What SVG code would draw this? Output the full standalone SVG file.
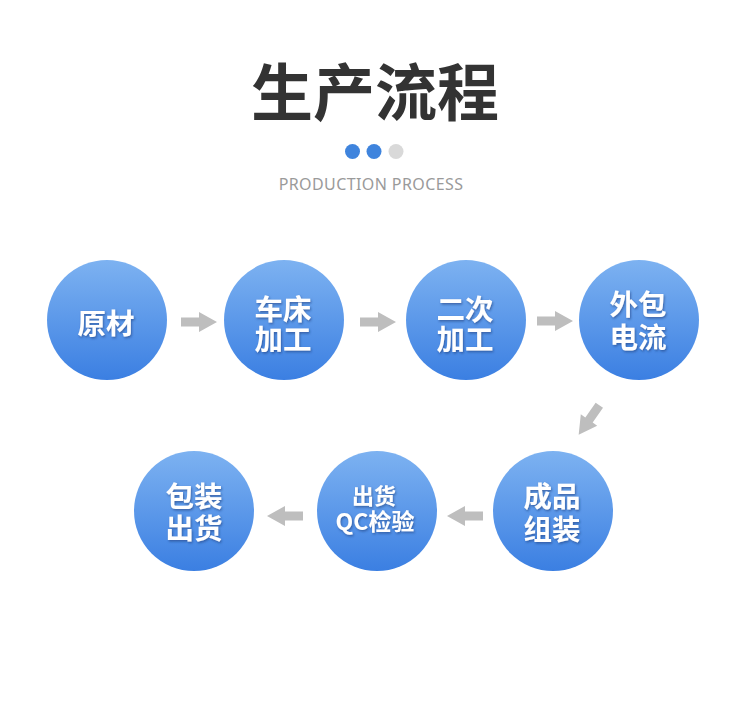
<svg xmlns="http://www.w3.org/2000/svg" width="750" height="716" viewBox="0 0 750 716">
<style>
.t{font-family:"Noto Sans CJK SC","Noto Sans",sans-serif;font-weight:bold;fill:#fff;text-anchor:middle;font-size:28.5px}
.s{font-size:23px}
.ar{fill:#BEBEBE}
</style>
<defs>
<linearGradient id="g" x1="0" y1="0" x2="0" y2="1">
<stop offset="0" stop-color="#7DB2F1"/>
<stop offset="1" stop-color="#3B7FE2"/>
</linearGradient>
<filter id="sh" x="-20%" y="-20%" width="140%" height="140%">
<feDropShadow dx="1" dy="1.5" stdDeviation="1" flood-color="#1a3d7a" flood-opacity="0.6"/>
</filter>
<polygon id="arr" points="-18,-4.5 0,-4.5 0,-10 18,0 0,10 0,4.5 -18,4.5"/>
</defs>
<rect width="750" height="716" fill="#fff"/>
<text x="375" y="116" style="font-family:'Noto Sans CJK SC',sans-serif;font-weight:bold;font-size:62px;fill:#333;text-anchor:middle">生产流程</text>
<circle cx="352.5" cy="151.5" r="7.5" fill="#3F84DD"/>
<circle cx="374" cy="151.5" r="7.5" fill="#3F84DD"/>
<circle cx="396" cy="151.5" r="7.5" fill="#D9D9D9"/>
<text x="371" y="190" style="font-family:'Noto Sans','Liberation Sans',sans-serif;font-size:16px;fill:#9A9A9A;text-anchor:middle;letter-spacing:0.4px">PRODUCTION PROCESS</text>
<g id="connectors" class="ar">
<use href="#arr" transform="translate(199,322)"/>
<use href="#arr" transform="translate(378,322)"/>
<use href="#arr" transform="translate(555,321)"/>
<use href="#arr" transform="translate(589,420) rotate(125)"/>
<use href="#arr" transform="translate(465,516) rotate(180)"/>
<use href="#arr" transform="translate(285,516) rotate(180)"/>
</g>
<g id="n1"><circle cx="107" cy="320" r="60" fill="url(#g)"/><text class="t" x="106" y="334" filter="url(#sh)">原材</text></g>
<g id="n2"><circle cx="284" cy="320" r="60" fill="url(#g)"/><text class="t" x="283" y="320" filter="url(#sh)">车床</text><text class="t" x="283" y="350" filter="url(#sh)">加工</text></g>
<g id="n3"><circle cx="466" cy="320" r="60" fill="url(#g)"/><text class="t" x="465" y="320" filter="url(#sh)">二次</text><text class="t" x="465" y="350" filter="url(#sh)">加工</text></g>
<g id="n4"><circle cx="639" cy="320" r="60" fill="url(#g)"/><text class="t" x="638" y="315" filter="url(#sh)">外包</text><text class="t" x="638" y="348" filter="url(#sh)">电流</text></g>
<g id="n5"><circle cx="553" cy="511" r="60" fill="url(#g)"/><text class="t" x="552" y="507" filter="url(#sh)">成品</text><text class="t" x="552" y="540" filter="url(#sh)">组装</text></g>
<g id="n6"><circle cx="377" cy="511" r="60" fill="url(#g)"/><text class="t s" x="374" y="504" style="font-size:22px" filter="url(#sh)">出货</text><text class="t s" x="375" y="530" filter="url(#sh)">QC检验</text></g>
<g id="n7"><circle cx="194" cy="511" r="60" fill="url(#g)"/><text class="t" x="194" y="507" filter="url(#sh)">包装</text><text class="t" x="194" y="539" filter="url(#sh)">出货</text></g>
</svg>
